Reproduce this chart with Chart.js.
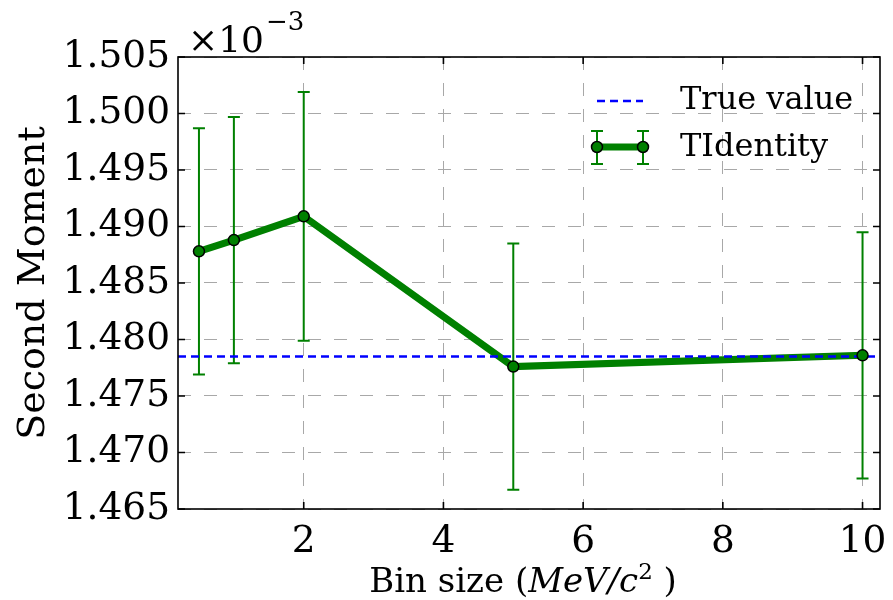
<!DOCTYPE html>
<html>
<head>
<meta charset="utf-8">
<script src="https://cdn.jsdelivr.net/npm/chart.js@4.4.1/dist/chart.umd.min.js"></script>
<style>
  html, body { margin: 0; padding: 0; background: #fff; }
  canvas { display: block; }
</style>
</head>
<body>
<canvas id="chart" width="893" height="600"></canvas>
<script>
// second moment (x 10^-3) against bin size, with error bars
const binSizes = [0.5, 1, 2, 5, 10]
const secondMoment = [1.4878, 1.4888, 1.4909, 1.4776, 1.4786]
const momentErr = [0.0109, 0.0109, 0.0110, 0.0109, 0.0109]
const trueValue = 1.4785

const xRange = [0.2, 10.25]
const xTicks = [2, 4, 6, 8, 10]
const yTicks = [1.465, 1.470, 1.475, 1.480, 1.485, 1.490, 1.495, 1.500, 1.505]

const SERIF = "'DejaVu Serif', 'Liberation Serif', serif"
const GREEN = "#008000"
const BLUE = "#0000ff"

function errorBar(ctx, x, yTop, yBot, cap) {
  ctx.beginPath()
  ctx.moveTo(x, yTop)
  ctx.lineTo(x, yBot)
  ctx.moveTo(x - cap, yTop)
  ctx.lineTo(x + cap, yTop)
  ctx.moveTo(x - cap, yBot)
  ctx.lineTo(x + cap, yBot)
  ctx.stroke()
}

function marker(ctx, x, y) {
  ctx.beginPath()
  ctx.arc(x, y, 5.5, 0, Math.PI * 2)
  ctx.fillStyle = GREEN
  ctx.fill()
  ctx.lineWidth = 1.5
  ctx.strokeStyle = "#000"
  ctx.stroke()
}

const errorBars = {
  id: "errorBars",
  beforeDatasetsDraw(chart) {
    const { ctx, scales: { x, y } } = chart
    ctx.save()
    ctx.strokeStyle = GREEN
    ctx.lineWidth = 2
    binSizes.forEach((b, i) => {
      const px = x.getPixelForValue(b)
      errorBar(ctx, px, y.getPixelForValue(secondMoment[i] + momentErr[i]),
        y.getPixelForValue(secondMoment[i] - momentErr[i]), 6)
    })
    ctx.restore()
  }
}

const decorations = {
  id: "decorations",
  afterDraw(chart) {
    const { ctx, chartArea: a, scales: { x, y } } = chart
    ctx.save()

    // frame and inward ticks on all four sides
    ctx.strokeStyle = "#000"
    ctx.lineWidth = 1.6
    ctx.strokeRect(a.left, a.top, a.right - a.left, a.bottom - a.top)
    ctx.beginPath()
    xTicks.forEach(t => {
      const px = x.getPixelForValue(t)
      ctx.moveTo(px, a.bottom); ctx.lineTo(px, a.bottom - 7)
      ctx.moveTo(px, a.top); ctx.lineTo(px, a.top + 7)
    })
    yTicks.forEach(t => {
      const py = y.getPixelForValue(t)
      ctx.moveTo(a.left, py); ctx.lineTo(a.left + 7, py)
      ctx.moveTo(a.right, py); ctx.lineTo(a.right - 7, py)
    })
    ctx.stroke()

    // offset text above the y axis
    ctx.fillStyle = "#000"
    ctx.textBaseline = "alphabetic"
    ctx.textAlign = "left"
    ctx.font = "36px " + SERIF
    ctx.fillText("\u00d710", a.left + 10, a.top - 5)
    const w10 = ctx.measureText("\u00d710").width
    ctx.font = "26px " + SERIF
    ctx.fillText("\u22123", a.left + 12 + w10, a.top - 27)

    // x axis title with math part in italics
    const parts = [
      { t: "Bin size (", f: "34px " + SERIF, dy: 0 },
      { t: "MeV/c", f: "italic 34px " + SERIF, dy: 0 },
      { t: "2", f: "23px " + SERIF, dy: -13 },
      { t: " )", f: "34px " + SERIF, dy: 0 }
    ]
    let total = 0
    parts.forEach(p => { ctx.font = p.f; p.w = ctx.measureText(p.t).width; total += p.w })
    let cx = (a.left + a.right) / 2 - total / 2 - 6
    const base = 592
    parts.forEach(p => {
      ctx.font = p.f
      ctx.fillText(p.t, cx, base + p.dy)
      cx += p.w
    })

    // legend
    const lx0 = a.right - 283, lx1 = a.right - 237, tx = a.right - 200
    const r1 = a.top + 44, r2 = a.top + 90
    ctx.strokeStyle = BLUE
    ctx.lineWidth = 2.5
    ctx.setLineDash([8, 5])
    ctx.beginPath(); ctx.moveTo(lx0, r1); ctx.lineTo(lx1, r1); ctx.stroke()
    ctx.setLineDash([])
    ctx.strokeStyle = GREEN
    ctx.lineWidth = 7
    ctx.beginPath(); ctx.moveTo(lx0, r2); ctx.lineTo(lx1, r2); ctx.stroke()
    ctx.lineWidth = 2
    errorBar(ctx, lx0, r2 - 16, r2 + 17, 6)
    errorBar(ctx, lx1, r2 - 16, r2 + 17, 6)
    marker(ctx, lx0, r2)
    marker(ctx, lx1, r2)
    ctx.fillStyle = "#000"
    ctx.font = "32px " + SERIF
    ctx.textBaseline = "middle"
    ctx.fillText("True value", tx, r1)
    ctx.fillText("TIdentity", tx, r2 + 1)

    ctx.restore()
  }
}

new Chart(document.getElementById("chart"), {
  type: "scatter",
  data: {
    datasets: [
      {
        // markers, drawn on top
        data: binSizes.map((b, i) => ({ x: b, y: secondMoment[i] })),
        showLine: false,
        pointRadius: 5.5,
        pointBackgroundColor: GREEN,
        pointBorderColor: "#000",
        pointBorderWidth: 1.5,
        order: 1
      },
      {
        label: "True value",
        data: xRange.map(v => ({ x: v, y: trueValue })),
        showLine: true,
        borderColor: BLUE,
        borderWidth: 2.5,
        borderDash: [8, 5],
        pointRadius: 0,
        order: 2
      },
      {
        label: "TIdentity",
        data: binSizes.map((b, i) => ({ x: b, y: secondMoment[i] })),
        showLine: true,
        borderColor: GREEN,
        borderWidth: 7,
        pointRadius: 0,
        order: 3
      }
    ]
  },
  options: {
    responsive: false,
    animation: false,
    events: [],
    layout: { padding: { top: 57, right: 13, left: 0, bottom: 0 } },
    plugins: { legend: { display: false }, tooltip: { enabled: false } },
    scales: {
      x: {
        type: "linear",
        min: xRange[0],
        max: xRange[1],
        afterBuildTicks: s => { s.ticks = xTicks.map(v => ({ value: v })) },
        afterFit: s => { s.height = 91; s.paddingRight = 0; s.paddingLeft = 0 },
        grid: { color: "#a8a8a8", lineWidth: 1, drawTicks: false },
        border: { display: false, dash: [13, 13] },
        ticks: {
          color: "#000",
          padding: 11,
          maxRotation: 0,
          font: { family: SERIF, size: 37.5 },
          callback: v => String(v)
        }
      },
      y: {
        min: yTicks[0],
        max: yTicks[yTicks.length - 1],
        afterBuildTicks: s => { s.ticks = yTicks.map(v => ({ value: v })) },
        afterFit: s => { s.width = 178; s.paddingTop = 0; s.paddingBottom = 0 },
        grid: { color: "#a8a8a8", lineWidth: 1, drawTicks: false },
        border: { display: false, dash: [13, 13] },
        ticks: {
          color: "#000",
          padding: 8,
          font: { family: SERIF, size: 37.5 },
          callback: v => v.toFixed(3)
        },
        title: {
          display: true,
          text: "Second Moment",
          color: "#000",
          font: { family: SERIF, size: 38 },
          padding: { top: 11, bottom: 0 }
        }
      }
    }
  },
  plugins: [errorBars, decorations]
})
</script>
</body>
</html>
